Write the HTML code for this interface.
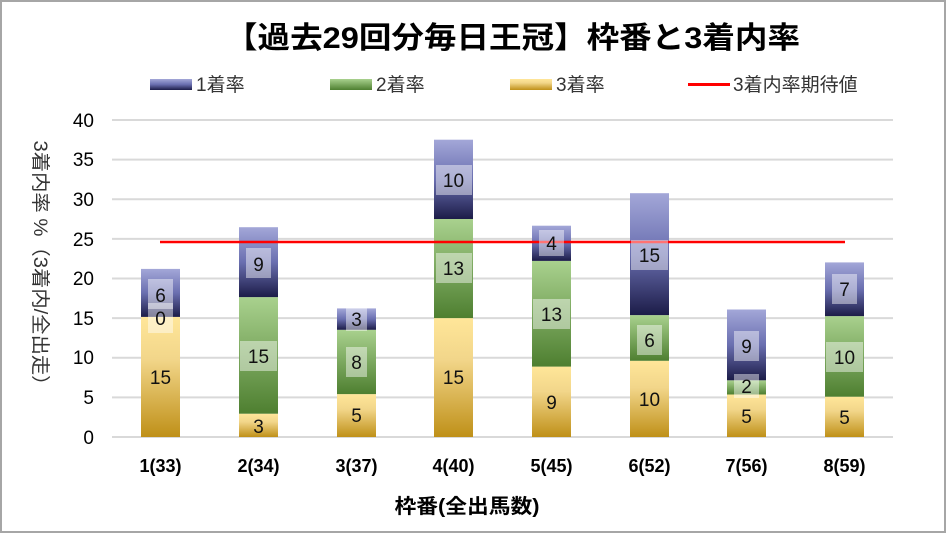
<!DOCTYPE html>
<html><head><meta charset="utf-8"><style>
body{margin:0;background:#fff}
svg{display:block;font-family:"Liberation Sans","Noto Sans CJK JP",sans-serif}
</style></head><body>
<svg width="947" height="534" viewBox="0 0 947 534">
<defs>
<linearGradient id="g1" x1="0" y1="0" x2="0" y2="1"><stop offset="0" stop-color="#a3a7d8"/><stop offset="0.5" stop-color="#6a6fb0"/><stop offset="1" stop-color="#1c1c48"/></linearGradient>
<linearGradient id="g2" x1="0" y1="0" x2="0" y2="1"><stop offset="0" stop-color="#a9d18e"/><stop offset="1" stop-color="#4e7f30"/></linearGradient>
<linearGradient id="g3" x1="0" y1="0" x2="0" y2="1"><stop offset="0" stop-color="#ffe699"/><stop offset="0.35" stop-color="#f2d68a"/><stop offset="1" stop-color="#bf9018"/></linearGradient>
</defs>
<rect x="1" y="1" width="944" height="531" fill="#fff" stroke="#a6a6a6" stroke-width="2"/>
<text x="225" y="48" font-size="30" font-weight="bold" textLength="575" lengthAdjust="spacingAndGlyphs">【過去29回分毎日王冠】枠番と3着内率</text>
<!-- legend -->
<rect x="150" y="79" width="42" height="11" fill="url(#g1)"/><text x="196" y="91" font-size="19" fill="#333">1着率</text>
<rect x="330" y="79" width="42" height="11" fill="url(#g2)"/><text x="376" y="91" font-size="19" fill="#333">2着率</text>
<rect x="510" y="79" width="42" height="11" fill="url(#g3)"/><text x="556" y="91" font-size="19" fill="#333">3着率</text>
<line x1="688" y1="84.5" x2="730" y2="84.5" stroke="#f00" stroke-width="3"/><text x="733" y="91" font-size="19" fill="#333">3着内率期待値</text>
<!-- grid -->
<g stroke="#d9d9d9" stroke-width="2">
<line x1="112" y1="120" x2="893" y2="120"/><line x1="112" y1="159.6" x2="893" y2="159.6"/><line x1="112" y1="199.3" x2="893" y2="199.3"/><line x1="112" y1="238.9" x2="893" y2="238.9"/><line x1="112" y1="278.5" x2="893" y2="278.5"/><line x1="112" y1="318.1" x2="893" y2="318.1"/><line x1="112" y1="357.8" x2="893" y2="357.8"/><line x1="112" y1="397.4" x2="893" y2="397.4"/><line x1="112" y1="437" x2="893" y2="437"/>
</g>
<g font-size="19" text-anchor="end">
<text x="94" y="127">40</text><text x="94" y="166">35</text><text x="94" y="206">30</text><text x="94" y="246">25</text><text x="94" y="285">20</text><text x="94" y="325">15</text><text x="94" y="364">10</text><text x="94" y="404">5</text><text x="94" y="444">0</text>
</g>
<text transform="translate(34,268) rotate(90)" font-size="19" text-anchor="middle" fill="#333" textLength="255" lengthAdjust="spacingAndGlyphs">3着内率 %（3着内/全出走）</text>
<!-- bars -->
<g>
<rect x="141" y="316.9" width="39" height="120.1" fill="url(#g3)"/><rect x="141" y="268.9" width="39" height="48" fill="url(#g1)"/>
<rect x="239" y="413.7" width="39" height="23.3" fill="url(#g3)"/><rect x="239" y="297.1" width="39" height="116.6" fill="url(#g2)"/><rect x="239" y="227.2" width="39" height="69.9" fill="url(#g1)"/>
<rect x="337" y="394.1" width="39" height="42.9" fill="url(#g3)"/><rect x="337" y="329.8" width="39" height="64.3" fill="url(#g2)"/><rect x="337" y="308.4" width="39" height="21.4" fill="url(#g1)"/>
<rect x="434" y="318.1" width="39" height="118.9" fill="url(#g3)"/><rect x="434" y="219" width="39" height="99.1" fill="url(#g2)"/><rect x="434" y="139.7" width="39" height="79.3" fill="url(#g1)"/>
<rect x="532" y="366.6" width="39" height="70.4" fill="url(#g3)"/><rect x="532" y="260.9" width="39" height="105.7" fill="url(#g2)"/><rect x="532" y="225.7" width="39" height="35.2" fill="url(#g1)"/>
<rect x="630" y="360.8" width="39" height="76.2" fill="url(#g3)"/><rect x="630" y="315.1" width="39" height="45.7" fill="url(#g2)"/><rect x="630" y="193.2" width="39" height="121.9" fill="url(#g1)"/>
<rect x="727" y="394.5" width="39" height="42.5" fill="url(#g3)"/><rect x="727" y="380.3" width="39" height="14.2" fill="url(#g2)"/><rect x="727" y="309.5" width="39" height="70.8" fill="url(#g1)"/>
<rect x="825" y="396.7" width="39" height="40.3" fill="url(#g3)"/><rect x="825" y="316.1" width="39" height="80.6" fill="url(#g2)"/><rect x="825" y="262.4" width="39" height="53.7" fill="url(#g1)"/>
</g>
<line x1="160" y1="242" x2="845" y2="242" stroke="#f00" stroke-width="2.5"/>
<!-- label boxes -->
<g fill="#fff" fill-opacity="0.45">
<rect x="148" y="279" width="25" height="30"/><rect x="148" y="303" width="25" height="30"/>
<rect x="246" y="248" width="25" height="30"/><rect x="240" y="341" width="37" height="30"/>
<rect x="346" y="307" width="21" height="24"/><rect x="346" y="347" width="21" height="30"/>
<rect x="436" y="165" width="36" height="30"/><rect x="436" y="253" width="36" height="30"/>
<rect x="539" y="230" width="25" height="26"/><rect x="533" y="299" width="37" height="30"/>
<rect x="637" y="325" width="25" height="30"/><rect x="631" y="240" width="37" height="30"/>
<rect x="734" y="331" width="25" height="30"/><rect x="734" y="374" width="25" height="24"/>
<rect x="832" y="274" width="25" height="30"/><rect x="826" y="342" width="37" height="30"/>
</g>
<g font-size="19" text-anchor="middle" fill="#111">
<text x="160.5" y="302">6</text><text x="160.5" y="325">0</text><text x="160.5" y="384">15</text>
<text x="258.5" y="271">9</text><text x="258.5" y="363">15</text><text x="258.5" y="433">3</text>
<text x="356.5" y="326">3</text><text x="356.5" y="369">8</text><text x="356.5" y="422">5</text>
<text x="453.5" y="187">10</text><text x="453.5" y="275">13</text><text x="453.5" y="384">15</text>
<text x="551.5" y="250">4</text><text x="551.5" y="321">13</text><text x="551.5" y="409">9</text>
<text x="649.5" y="262">15</text><text x="649.5" y="347">6</text><text x="649.5" y="406">10</text>
<text x="746.5" y="353">9</text><text x="746.5" y="393">2</text><text x="746.5" y="423">5</text>
<text x="844.5" y="296">7</text><text x="844.5" y="364">10</text><text x="844.5" y="424">5</text>
</g>
<g font-size="18" font-weight="bold" text-anchor="middle">
<text x="160.5" y="472">1(33)</text><text x="258.5" y="472">2(34)</text><text x="356.5" y="472">3(37)</text><text x="453.5" y="472">4(40)</text><text x="551.5" y="472">5(45)</text><text x="649.5" y="472">6(52)</text><text x="746.5" y="472">7(56)</text><text x="844.5" y="472">8(59)</text>
</g>
<text x="467" y="513" font-size="20" font-weight="bold" text-anchor="middle" textLength="145" lengthAdjust="spacingAndGlyphs">枠番(全出馬数)</text>
</svg>
</body></html>
